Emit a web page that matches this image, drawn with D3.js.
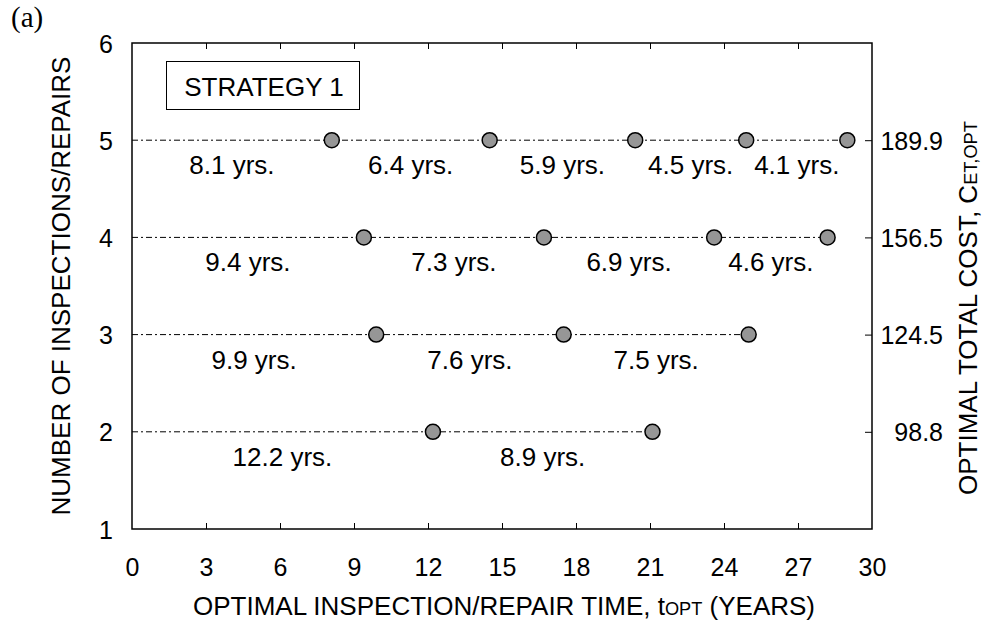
<!DOCTYPE html>
<html>
<head>
<meta charset="utf-8">
<script src="https://cdn.jsdelivr.net/npm/d3@7"></script>
<style>
  html, body { margin: 0; padding: 0; background: #fff; }
  svg { display: block; font-family: "Liberation Sans", Arial, sans-serif; }
</style>
</head>
<body>
<svg id="chart" width="985" height="625"></svg>
<script>
// ---- data ----
const inspections = [5, 4, 3, 2];
const intervals5 = [8.1, 6.4, 5.9, 4.5, 4.1];
const intervals4 = [9.4, 7.3, 6.9, 4.6];
const intervals3 = [9.9, 7.6, 7.5];
const intervals2 = [12.2, 8.9];
const optimalCost = [189.9, 156.5, 124.5, 98.8];
const xTickValues = [0, 3, 6, 9, 12, 15, 18, 21, 24, 27, 30];
const yTickValues = [1, 2, 3, 4, 5, 6];
const strategyLabel = "STRATEGY 1";
const panelLabel = "(a)";

const intervalsByRow = [intervals5, intervals4, intervals3, intervals2];
const rows = inspections.map((n, i) => {
  let t = 0;
  const pts = intervalsByRow[i].map(d => {
    const start = t;
    t = +(t + d).toFixed(2);
    return { start, end: t, gap: d };
  });
  return { n, cost: optimalCost[i], pts };
});

// ---- layout ----
const svg = d3.select("#chart");
const L = 132, R = 872, T = 43, B = 529;
const x = d3.scaleLinear().domain([0, 30]).range([L, R]);
const y = d3.scaleLinear().domain([1, 6]).range([B, T]);
const FS = 26;   // label / title size
const TS = 25;   // tick label size
const FF = "Liberation Sans, Arial, sans-serif";

// dash-dot lines
rows.forEach(r => {
  svg.append("line")
    .attr("x1", x(0)).attr("x2", x(r.pts[r.pts.length - 1].end))
    .attr("y1", y(r.n)).attr("y2", y(r.n))
    .attr("stroke", "#000").attr("stroke-width", 1)
    .attr("stroke-dasharray", "6,3,2,3");
});

// interval labels
rows.forEach(r => {
  svg.selectAll(null).data(r.pts).enter().append("text")
    .attr("x", d => x((d.start + d.end) / 2))
    .attr("y", y(r.n) + 34)
    .attr("text-anchor", "middle")
    .attr("font-size", FS)
    .attr("fill", "#000")
    .text(d => d.gap.toFixed(1) + " yrs.");
});

// points
rows.forEach(r => {
  svg.selectAll(null).data(r.pts).enter().append("circle")
    .attr("cx", d => x(d.end)).attr("cy", y(r.n)).attr("r", 7.5)
    .attr("fill", "#969696").attr("stroke", "#000").attr("stroke-width", 1.5);
});

// frame
svg.append("rect").attr("x", L).attr("y", T).attr("width", R - L).attr("height", B - T)
  .attr("fill", "none").attr("stroke", "#000").attr("stroke-width", 1.5);

// x axis (bottom) ticks inside + labels
const xAxisB = d3.axisBottom(x).tickValues(xTickValues).tickSizeInner(-6).tickSizeOuter(0).tickPadding(29);
const gxb = svg.append("g").attr("transform", `translate(0,${B})`).call(xAxisB);
gxb.select(".domain").remove();
gxb.selectAll("line").attr("stroke", "#000").attr("stroke-width", 1);
gxb.selectAll("text").attr("font-size", TS).attr("fill", "#000").attr("font-family", FF);
gxb.selectAll(".tick").filter(d => d === 0 || d === 30).select("line").remove();

// x axis (top) ticks inside
const xAxisT = d3.axisTop(x).tickValues(xTickValues).tickSizeInner(-6).tickSizeOuter(0).tickFormat("");
const gxt = svg.append("g").attr("transform", `translate(0,${T})`).call(xAxisT);
gxt.select(".domain").remove();
gxt.selectAll("line").attr("stroke", "#000").attr("stroke-width", 1);
gxt.selectAll(".tick").filter(d => d === 0 || d === 30).select("line").remove();

// y axis left (labels only)
const yAxisL = d3.axisLeft(y).tickValues(yTickValues).tickSize(0).tickPadding(19).tickFormat(d3.format("d"));
const gyl = svg.append("g").attr("transform", `translate(${L},0)`).call(yAxisL);
gyl.select(".domain").remove();
gyl.selectAll("text").attr("font-size", TS).attr("fill", "#000").attr("dy", "0.36em").attr("font-family", FF);

// y axis right (cost labels)
const yAxisR = d3.axisRight(y).tickValues(inspections).tickSizeInner(-7).tickSizeOuter(0).tickPadding(0)
  .tickFormat((d, i) => optimalCost[i].toFixed(1));
const gyr = svg.append("g").attr("transform", `translate(${R},0)`).call(yAxisR);
gyr.select(".domain").remove();
gyr.selectAll("line").attr("stroke", "#000").attr("stroke-width", 1);
gyr.selectAll("text").attr("font-size", TS).attr("fill", "#000").attr("text-anchor", "end")
  .attr("x", 71).attr("dy", "0.36em").attr("font-family", FF);

// x axis title
const xt = svg.append("text").attr("x", (L + R) / 2 + 2).attr("y", 615).attr("text-anchor", "middle").attr("font-size", FS);
xt.append("tspan").text("OPTIMAL INSPECTION/REPAIR TIME, t");
xt.append("tspan").attr("font-size", FS * 0.7).text("OPT");
xt.append("tspan").text(" (YEARS)");

// y left title
svg.append("text").attr("transform", `translate(70,${(T + B) / 2}) rotate(-90)`)
  .attr("text-anchor", "middle").attr("font-size", FS)
  .text("NUMBER OF INSPECTIONS/REPAIRS");

// y right title
const yr = svg.append("text").attr("transform", `translate(977,495) rotate(-90)`)
  .attr("text-anchor", "start").attr("font-size", FS);
yr.append("tspan").text("OPTIMAL TOTAL COST, C");
yr.append("tspan").attr("font-size", FS * 0.7).text("ET,OPT");

// legend box
svg.append("rect").attr("x", 166.5).attr("y", 61.5).attr("width", 193).attr("height", 48)
  .attr("fill", "#fff").attr("stroke", "#000").attr("stroke-width", 1);
svg.append("text").attr("x", 264).attr("y", 96).attr("text-anchor", "middle").attr("font-size", FS)
  .text(strategyLabel);

// panel label
svg.append("text").attr("x", 11).attr("y", 27).attr("font-family", "Liberation Serif, Times New Roman, serif")
  .attr("font-size", 29).text(panelLabel);
</script>
</body>
</html>
